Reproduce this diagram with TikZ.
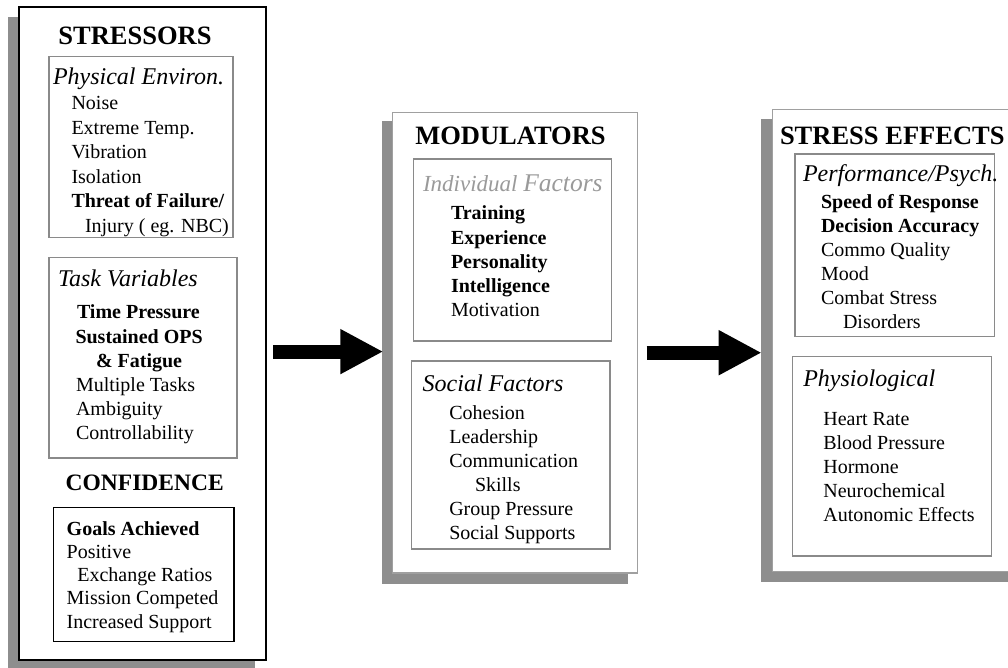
\documentclass[tikz,border=0pt]{standalone}
\usepackage{fontspec}
\setmainfont{Liberation Serif}
\usetikzlibrary{arrows.meta,calc}
\definecolor{shadowgray}{HTML}{8E8E8E}
\definecolor{linegray}{HTML}{8A8A8A}
\definecolor{outergray}{HTML}{A0A0A0}
\definecolor{headgray}{HTML}{9A9A9A}
\tikzset{
  frame/.style={anchor=north west, inner sep=0pt, outer sep=0pt, fill=white},
  inbox/.style={frame, draw=linegray, line width=1.3pt},
  txt/.style={anchor=base west, inner sep=0pt, outer sep=0pt, font=\fontsize{20}{24}\selectfont},
  btxt/.style={txt, font=\fontsize{20}{24}\selectfont\bfseries},
  ihead/.style={txt, font=\fontsize{24}{28}\selectfont\itshape},
  title/.style={anchor=base, inner sep=0pt, outer sep=0pt, font=\fontsize{26.5}{30}\selectfont\bfseries},
  bigarrow/.style={line width=14pt, -{Triangle[length=43pt,width=42pt]}}
}
\begin{document}
\begin{tikzpicture}[x=1pt,y=-1pt]
\useasboundingbox (0,0) rectangle (1008,668);
\fill[white] (0,0) rectangle (1008,668);

% ---------- shadows ----------
\fill[shadowgray] (8,17) rectangle (255,670);
\fill[shadowgray] (382,121.5) rectangle (628,583.5);
\fill[shadowgray] (761,119.3) rectangle (1008,582);

% ---------- STRESSORS panel ----------
\node[frame, draw=black, line width=2pt, minimum width=246.7pt, minimum height=652.7pt] (L) at (19,7.3) {};
\node[title] (Ltitle) at (135,45) {STRESSORS};
\node[inbox, minimum width=184pt, minimum height=180.6pt] (L1) at (49,56.7) {};
\node[ihead] (L1h) at (53,85) {Physical Environ.};
\node[txt] (L1a) at (71.5,110) {Noise};
\node[txt] (L1b) at (71.5,134.5) {Extreme Temp.};
\node[txt] (L1c) at (71.5,159) {Vibration};
\node[txt] (L1d) at (71.5,183.5) {Isolation};
\node[btxt] (L1e) at (71.5,208) {Threat of Failure/};
\node[txt] (L1f) at (85,232.5) {Injury ( eg. NBC)};

\node[inbox, minimum width=188pt, minimum height=200.7pt] (L2) at (49,257.3) {};
\node[ihead] (L2h) at (58,286) {Task Variables};
\node[btxt] (L2a) at (77,318) {Time Pressure};
\node[btxt] (L2b) at (75.5,343) {Sustained OPS};
\node[btxt] (L2c) at (96,367.5) {\& Fatigue};
\node[txt] (L2d) at (76,391) {Multiple Tasks};
\node[txt] (L2e) at (76,415) {Ambiguity};
\node[txt] (L2f) at (76,439) {Controllability};

\node[title, font=\fontsize{23.5}{28}\selectfont\bfseries] (Ctitle) at (144.7,490) {CONFIDENCE};
\node[frame, draw=black, line width=1.5pt, minimum width=180.7pt, minimum height=134.2pt] (L3) at (53.3,507.5) {};
\node[btxt] (L3a) at (66.7,535) {Goals Achieved};
\node[txt] (L3b) at (66.7,558) {Positive};
\node[txt] (L3c) at (77.3,581) {Exchange Ratios};
\node[txt] (L3d) at (66.7,604.5) {Mission Competed};
\node[txt] (L3e) at (66.7,628) {Increased Support};

% ---------- MODULATORS panel ----------
\node[frame, draw=outergray, line width=1.3pt, minimum width=245pt, minimum height=460.4pt] (M) at (392.7,112.6) {};
\node[title] (Mtitle) at (510.5,145) {MODULATORS};
\node[inbox, minimum width=198.4pt, minimum height=182pt] (M1) at (413.3,159) {};
\node[txt, text=headgray, font=\fontsize{23}{28}\selectfont\itshape] (M1h) at (423,191.7) {Individual \fontsize{25.5}{30}\selectfont Factors};
\node[btxt] (M1a) at (451,220) {Training};
\node[btxt] (M1b) at (451,244) {Experience};
\node[btxt] (M1c) at (451,268) {Personality};
\node[btxt] (M1d) at (451,292) {Intelligence};
\node[txt] (M1e) at (451,316) {Motivation};

\node[inbox, minimum width=198.3pt, minimum height=188pt] (M2) at (411.7,361) {};
\node[ihead] (M2h) at (422.7,391.7) {Social Factors};
\node[txt] (M2a) at (449.3,419.5) {Cohesion};
\node[txt] (M2b) at (449.3,443.5) {Leadership};
\node[txt] (M2c) at (449.3,467.5) {Communication};
\node[txt] (M2d) at (475,491.5) {Skills};
\node[txt] (M2e) at (449.3,515.5) {Group Pressure};
\node[txt] (M2f) at (449.3,539.5) {Social Supports};

% ---------- STRESS EFFECTS panel ----------
\node[frame, draw=outergray, line width=1.3pt, minimum width=239.7pt, minimum height=462pt] (R) at (772.3,109.5) {};
\node[title, anchor=base west] (Rtitle) at (780,145) {STRESS EFFECTS};
\node[inbox, minimum width=199.3pt, minimum height=182.7pt] (R1) at (795,154) {};
\node[ihead] (R1h) at (803,181.7) {Performance/Psych.};
\node[btxt] (R1a) at (821,208.5) {Speed of Response};
\node[btxt] (R1b) at (821,232.5) {Decision Accuracy};
\node[txt] (R1c) at (821,256.5) {Commo Quality};
\node[txt] (R1d) at (821,280.5) {Mood};
\node[txt] (R1e) at (821,304.5) {Combat Stress};
\node[txt] (R1f) at (843,328.5) {Disorders};

\node[inbox, minimum width=199.4pt, minimum height=199.3pt] (R2) at (792.3,356.7) {};
\node[ihead] (R2h) at (803.3,386.7) {Physiological};
\node[txt] (R2a) at (823.3,425) {Heart Rate};
\node[txt] (R2b) at (823.3,449) {Blood Pressure};
\node[txt] (R2c) at (823.3,473) {Hormone};
\node[txt] (R2d) at (823.3,497) {Neurochemical};
\node[txt] (R2e) at (823.3,521) {Autonomic Effects};

% ---------- arrows ----------
\coordinate (ya) at (0,351.6);
\coordinate (yb) at (0,352.7);
\draw[bigarrow] ($(L.east |- ya)+(7.6,0)$) -- ($(M.west |- ya)+(-9.4,0)$);
\draw[bigarrow] ($(M.east |- yb)+(9,0)$) -- ($(R.west |- yb)+(-10.6,0)$);
\end{tikzpicture}
\end{document}
